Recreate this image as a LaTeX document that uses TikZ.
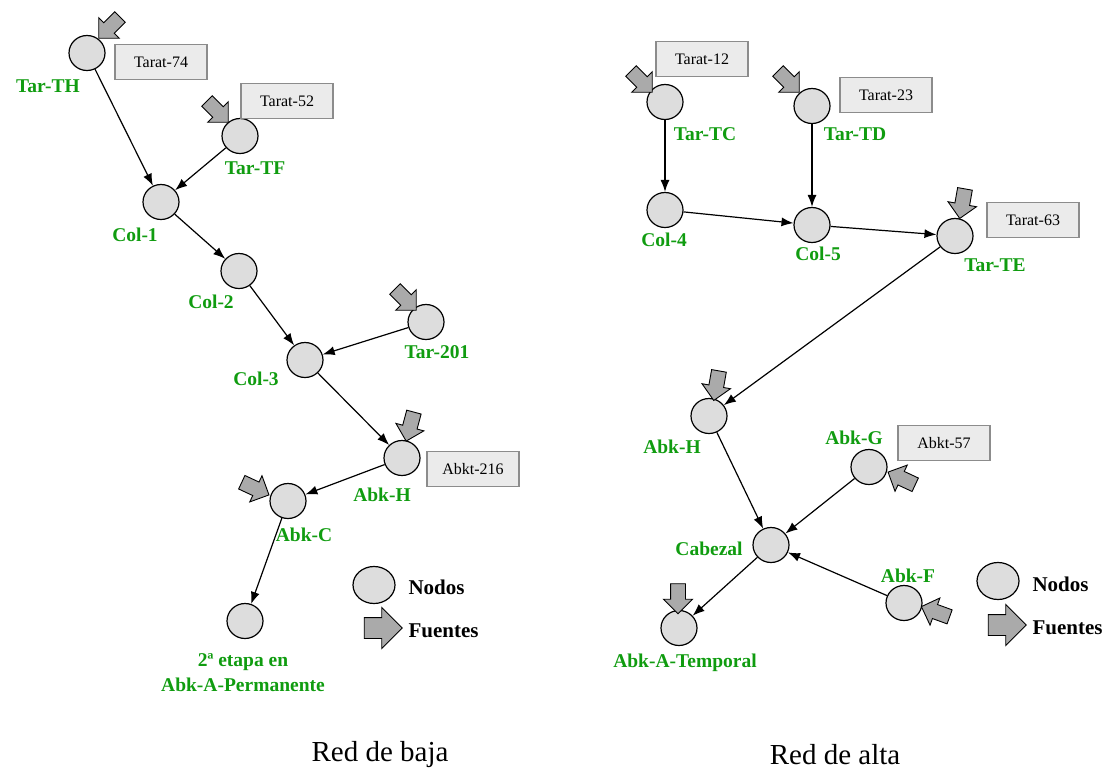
\documentclass[tikz,border=0pt]{standalone}
\usepackage{fontspec}
\setmainfont{Liberation Serif}
\usepackage{tikz}
\usetikzlibrary{arrows.meta,shapes.geometric,shapes.arrows,positioning}
\definecolor{nodefill}{HTML}{DDDDDD}
\definecolor{srcfill}{HTML}{AAAAAA}
\definecolor{tagfill}{HTML}{EBEBEB}
\definecolor{tagdraw}{HTML}{8C8C8C}
\definecolor{labgreen}{HTML}{109C10}
\tikzset{
  netnode/.style={
    ellipse,
    draw=black,
    fill=nodefill,
    line width=1.2pt,
    minimum width=36pt,
    minimum height=35pt,
    inner sep=0pt
  },
  source/.style={
    single arrow,
    draw=black,
    fill=srcfill,
    line width=0.9pt,
    inner xsep=0pt,
    inner ysep=7pt,
    single arrow head extend=7pt,
    minimum height=30pt
  },
  bigsource/.style={
    source,
    inner ysep=10pt,
    single arrow head extend=10pt,
    minimum height=38pt
  },
  tagbox/.style={
    draw=tagdraw,
    fill=tagfill,
    line width=1.8pt,
    minimum width=92pt,
    minimum height=35pt,
    font=\fontsize{16}{18}\selectfont
  },
  namelabel/.style={
    text=labgreen,
    align=center,
    font=\fontsize{19.5}{25}\selectfont\bfseries
  },
  legendtext/.style={font=\fontsize{21}{24}\selectfont\bfseries},
  titletext/.style={font=\fontsize{29}{33}\selectfont},
  flowarrow/.style={
    -{Latex[length=12pt,width=9pt]},
    line width=1.2pt
  }
}

\begin{document}
\begin{tikzpicture}[x=1pt,y=-1pt]
    \useasboundingbox (0,0) rectangle (1108,779);

    % Red de baja
    \node[netnode] (tarth) at (87,53) {};
    \node[netnode] (tartf) at (240,136) {};
    \node[netnode] (col1) at (161,202) {};
    \node[netnode] (col2) at (239,271) {};
    \node[netnode] (col3) at (305,360) {};
    \node[netnode] (tar201) at (426,322) {};
    \node[netnode] (abkhb) at (402,458) {};
    \node[netnode] (abkc) at (288,501) {};
    \node[netnode] (etapa) at (245,621) {};

    \node[namelabel] (tarthlab) at (48,86) {Tar-TH};
    \node[namelabel] (tartflab) at (255,168) {Tar-TF};
    \node[namelabel] (col1lab) at (135,235) {Col-1};
    \node[namelabel] (col2lab) at (211,302) {Col-2};
    \node[namelabel] (col3lab) at (256,379) {Col-3};
    \node[namelabel] (tar201lab) at (437,352) {Tar-201};
    \node[namelabel] (abkhblab) at (382,495) {Abk-H};
    \node[namelabel] (abkclab) at (304,535) {Abk-C};
    \node[namelabel] (etapalab) at (243,673) {2ª etapa en\\Abk-A-Permanente};

    \node[tagbox] (tag74) at (161,62) {Tarat-74};
    \node[tagbox] (tag52) at (287,101) {Tarat-52};
    \node[tagbox] (tag216) at (473,469) {Abkt-216};

    \node[source, rotate=-135] (srcth) at (112,25) {};
    \node[source, rotate=-45] (srctf) at (215,109) {};
    \node[source, rotate=-45] (src201) at (403,297) {};
    \node[source, rotate=-105] (srchb) at (411,423) {};
    \node[source, rotate=-25] (srcc) at (252,487) {};

    \draw[flowarrow] (tarth) -- (col1);
    \draw[flowarrow] (tartf) -- (col1);
    \draw[flowarrow] (col1) -- (col2);
    \draw[flowarrow] (col2) -- (col3);
    \draw[flowarrow] (tar201) -- (col3);
    \draw[flowarrow] (col3) -- (abkhb);
    \draw[flowarrow] (abkhb) -- (abkc);
    \draw[flowarrow] (abkc) -- (etapa);

    \node[netnode, minimum width=42pt, minimum height=37pt] (legnodeb) at (374,585) {};
    \node[legendtext, anchor=west] (legnodebtxt) at (405,587) {Nodos};
    \node[bigsource] (legsrcb) at (378,628) {};
    \node[legendtext, anchor=west] (legsrcbtxt) at (405,631) {Fuentes};

    \node[titletext] (titleb) at (380,755) {Red de baja};

    % Red de alta
    \node[netnode] (tartc) at (665,102) {};
    \node[netnode] (tartd) at (812,106) {};
    \node[netnode] (col4) at (665,210) {};
    \node[netnode] (col5) at (812,225) {};
    \node[netnode] (tarte) at (955,236) {};
    \node[netnode] (abkha) at (709,416) {};
    \node[netnode] (abkg) at (869,467) {};
    \node[netnode] (cabezal) at (771,545) {};
    \node[netnode] (abkf) at (904,603) {};
    \node[netnode] (temporal) at (679,628) {};

    \node[namelabel] (tartclab) at (705,134) {Tar-TC};
    \node[namelabel] (tartdlab) at (855,134) {Tar-TD};
    \node[namelabel] (col4lab) at (664,240) {Col-4};
    \node[namelabel] (col5lab) at (818,254) {Col-5};
    \node[namelabel] (tartelab) at (995,265) {Tar-TE};
    \node[namelabel] (abkhalab) at (672,447) {Abk-H};
    \node[namelabel] (abkglab) at (854,438) {Abk-G};
    \node[namelabel] (cabezallab) at (709,549) {Cabezal};
    \node[namelabel] (abkflab) at (908,576) {Abk-F};
    \node[namelabel] (temporallab) at (685,663) {Abk-A-Temporal};

    \node[tagbox] (tag12) at (702,59) {Tarat-12};
    \node[tagbox] (tag23) at (886,95) {Tarat-23};
    \node[tagbox] (tag63) at (1033,220) {Tarat-63};
    \node[tagbox] (tag57) at (944,443) {Abkt-57};

    \node[source, rotate=-45] (srctc) at (639,79) {};
    \node[source, rotate=-45] (srctd) at (786,79) {};
    \node[source, rotate=-100] (srcte) at (963,200) {};
    \node[source, rotate=-100] (srcha) at (717,382) {};
    \node[source, rotate=155] (srcg) at (905,480) {};
    \node[source, rotate=160] (srcf) at (939,613) {};
    \node[source, rotate=-90] (srctemp) at (678,595) {};

    \draw[flowarrow] (tartc) -- (col4);
    \draw[flowarrow] (tartd) -- (col5);
    \draw[flowarrow] (col4) -- (col5);
    \draw[flowarrow] (col5) -- (tarte);
    \draw[flowarrow] (tarte) -- (abkha);
    \draw[flowarrow] (abkha) -- (cabezal);
    \draw[flowarrow] (abkg) -- (cabezal);
    \draw[flowarrow] (abkf) -- (cabezal);
    \draw[flowarrow] (cabezal) -- (temporal);

    \node[netnode, minimum width=42pt, minimum height=37pt] (legnodea) at (998,581) {};
    \node[legendtext, anchor=west] (legnodeatxt) at (1029,584) {Nodos};
    \node[bigsource] (legsrca) at (1002,625) {};
    \node[legendtext, anchor=west] (legsrcatxt) at (1029,628) {Fuentes};

    \node[titletext] (titlea) at (835,755) {Red de alta};
\end{tikzpicture}
\end{document}
